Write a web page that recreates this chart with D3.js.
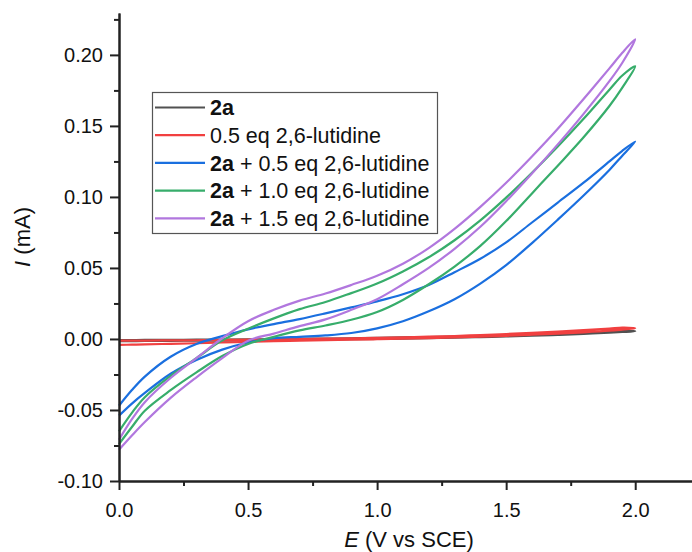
<!DOCTYPE html>
<html>
<head>
<meta charset="utf-8">
<script src="https://cdn.jsdelivr.net/npm/d3@7"></script>
<style>
  html, body { margin: 0; padding: 0; background: #fff; }
  svg { display: block; font-family: "Liberation Sans", Arial, sans-serif; }
</style>
</head>
<body>
<svg id="chart" width="692" height="552"></svg>
<script>
// Potential grid (V vs SCE) shared by every sweep branch
const potential = [0, 0.05, 0.1, 0.2, 0.3, 0.4, 0.5, 0.6, 0.7, 0.8, 0.9, 1.0,
                   1.1, 1.2, 1.3, 1.4, 1.5, 1.6, 1.7, 1.8, 1.9, 1.95, 2.0];

// Current (mA): upper and lower branch of each voltammogram
const i2aUpper = [-0.0008, -0.0008, -0.0007, -0.0006, -0.0005, -0.0004, -0.0003, -0.0001, 0.0001, 0.0003, 0.0005, 0.0008,
                  0.0011, 0.0014, 0.0017, 0.0021, 0.0025, 0.0030, 0.0036, 0.0043, 0.0051, 0.0056, 0.0062];
const i2aLower = [-0.0015, -0.0015, -0.0014, -0.0013, -0.0012, -0.0011, -0.0010, -0.0008, -0.0006, -0.0004, -0.0002, 0.0000,
                  0.0003, 0.0006, 0.0009, 0.0013, 0.0018, 0.0023, 0.0029, 0.0036, 0.0044, 0.0049, 0.0055];
const iLutUpper = [-0.0012, -0.0012, -0.0011, -0.0010, -0.0009, -0.0007, -0.0005, -0.0003, 0.0000, 0.0002, 0.0005, 0.0008,
                   0.0012, 0.0016, 0.0021, 0.0028, 0.0035, 0.0043, 0.0052, 0.0062, 0.0073, 0.0080, 0.0088];
const iLutLower = [-0.0042, -0.0040, -0.0038, -0.0034, -0.0030, -0.0025, -0.0020, -0.0016, -0.0012, -0.0009, -0.0005, -0.0002,
                   0.0002, 0.0006, 0.0011, 0.0016, 0.0022, 0.0030, 0.0038, 0.0047, 0.0058, 0.0066, 0.0075];
const iB05Upper = [-0.047, -0.036, -0.0265, -0.0125, -0.0035, 0.002, 0.0068, 0.0105, 0.014, 0.018, 0.0222, 0.0265,
                   0.0315, 0.038, 0.047, 0.0565, 0.068, 0.082, 0.096, 0.110, 0.125, 0.1325, 0.140];
const iB05Lower = [-0.054, -0.0455, -0.038, -0.0245, -0.0148, -0.0075, -0.0025, 0.0005, 0.0015, 0.0025, 0.0042, 0.0075,
                   0.0125, 0.0195, 0.028, 0.039, 0.052, 0.0675, 0.084, 0.101, 0.119, 0.129, 0.139];
const iB10Upper = [-0.065, -0.052, -0.041, -0.026, -0.0135, -0.001, 0.0072, 0.0145, 0.021, 0.026, 0.0323, 0.039,
                   0.0475, 0.0575, 0.0695, 0.0835, 0.0995, 0.117, 0.1355, 0.155, 0.1755, 0.1855, 0.194];
const iB10Lower = [-0.074, -0.062, -0.0505, -0.036, -0.0235, -0.012, -0.0035, 0.0015, 0.006, 0.0095, 0.0135, 0.019,
                   0.0275, 0.0385, 0.051, 0.0655, 0.083, 0.1025, 0.122, 0.142, 0.164, 0.177, 0.192];
const iB15Upper = [-0.071, -0.0565, -0.0445, -0.0275, -0.0135, 0.0005, 0.0125, 0.0205, 0.027, 0.032, 0.038, 0.0445,
                   0.053, 0.064, 0.0775, 0.093, 0.110, 0.1285, 0.148, 0.169, 0.1905, 0.2015, 0.213];
const iB15Lower = [-0.078, -0.068, -0.0585, -0.0415, -0.027, -0.0135, -0.0012, 0.0038, 0.009, 0.0138, 0.0205, 0.028,
                   0.0385, 0.050, 0.0635, 0.079, 0.097, 0.1165, 0.137, 0.1585, 0.1815, 0.1945, 0.211];

const seriesNames = ["2a", "0.5 eq 2,6-lutidine", "2a + 0.5 eq 2,6-lutidine",
                     "2a + 1.0 eq 2,6-lutidine", "2a + 1.5 eq 2,6-lutidine"];
const seriesColors = ["#515151", "#F14040", "#1A6FDF", "#37AD6B", "#B177DE"];
const upperBranches = [i2aUpper, iLutUpper, iB05Upper, iB10Upper, iB15Upper];
const lowerBranches = [i2aLower, iLutLower, iB05Lower, iB10Lower, iB15Lower];

const xMajorTicks = [0, 0.5, 1.0, 1.5, 2.0];
const xMinorTicks = [0.25, 0.75, 1.25, 1.75];
const yMajorTicks = [-0.10, -0.05, 0.00, 0.05, 0.10, 0.15, 0.20];
const yMinorTicks = [-0.075, -0.025, 0.025, 0.075, 0.125, 0.175, 0.225];

const svg = d3.select("#chart");
const x = d3.scaleLinear().domain([0, 2.22]).range([119, 692]);
const y = d3.scaleLinear().domain([-0.10, 0.2295]).range([481, 13]);
const axisColor = "#222";

// Each voltammogram: lower branch outward to 2.0 V, then the upper branch back to 0 V
const line = d3.line().x(d => x(d[0])).y(d => y(d[1])).curve(d3.curveCatmullRom.alpha(0.5));
const plot = svg.append("g");
seriesNames.forEach((name, k) => {
  const out = potential.map((e, j) => [e, lowerBranches[k][j]]);
  const back = potential.map((e, j) => [e, upperBranches[k][j]]).reverse();
  plot.append("path")
    .attr("d", line(out.concat(back.slice(1))))
    .attr("fill", "none")
    .attr("stroke", seriesColors[k])
    .attr("stroke-width", 2.2)
    .attr("stroke-linejoin", "round");
});

// Axes: left and bottom, ticks pointing outward
const fmtY = d => d.toFixed(2);
const fmtX = d => d.toFixed(1);
function styleAxis(g) {
  g.select(".domain").attr("stroke", axisColor).attr("stroke-width", 2);
  g.selectAll(".tick line").attr("stroke", axisColor).attr("stroke-width", 2);
  g.selectAll(".tick text").attr("fill", "#111").attr("font-size", 20)
    .attr("font-family", "'Liberation Sans', Arial, sans-serif");
}
svg.append("g").attr("transform", "translate(0,481)")
  .call(d3.axisBottom(x).tickValues(xMinorTicks).tickSize(5).tickFormat("").tickSizeOuter(0))
  .call(styleAxis);
svg.append("g").attr("transform", "translate(119,0)")
  .call(d3.axisLeft(y).tickValues(yMinorTicks).tickSize(5).tickFormat("").tickSizeOuter(0))
  .call(styleAxis);
svg.append("g").attr("transform", "translate(0,481)")
  .call(d3.axisBottom(x).tickValues(xMajorTicks).tickSize(9).tickPadding(13).tickFormat(fmtX).tickSizeOuter(0))
  .call(styleAxis);
svg.append("g").attr("transform", "translate(119,0)")
  .call(d3.axisLeft(y).tickValues(yMajorTicks).tickSize(9).tickPadding(7).tickFormat(fmtY).tickSizeOuter(0))
  .call(styleAxis);

// Axis titles
const xTitle = svg.append("text").attr("x", 409).attr("y", 547).attr("text-anchor", "middle")
  .attr("font-size", 22).attr("fill", "#111");
xTitle.append("tspan").attr("font-style", "italic").text("E");
xTitle.append("tspan").text(" (V vs SCE)");
const yTitle = svg.append("text").attr("transform", "translate(30,237) rotate(-90)")
  .attr("text-anchor", "middle").attr("font-size", 22).attr("fill", "#111");
yTitle.append("tspan").attr("font-style", "italic").text("I");
yTitle.append("tspan").text(" (mA)");

// Legend
const legend = svg.append("g");
legend.append("rect").attr("x", 152.5).attr("y", 92.5).attr("width", 285).attr("height", 141)
  .attr("fill", "#fff").attr("stroke", "#555").attr("stroke-width", 1.2);
seriesNames.forEach((name, k) => {
  const cy = 107.5 + k * 27.7;
  legend.append("line").attr("x1", 155).attr("x2", 205).attr("y1", cy).attr("y2", cy)
    .attr("stroke", seriesColors[k]).attr("stroke-width", 2.2);
  const t = legend.append("text").attr("x", 210).attr("y", cy).attr("dy", "0.36em")
    .attr("font-size", 21.5).attr("fill", "#111");
  if (name.startsWith("2a")) {
    t.append("tspan").attr("font-weight", "bold").text("2a");
    t.append("tspan").text(name.slice(2));
  } else {
    t.append("tspan").text(name);
  }
});
</script>
</body>
</html>
